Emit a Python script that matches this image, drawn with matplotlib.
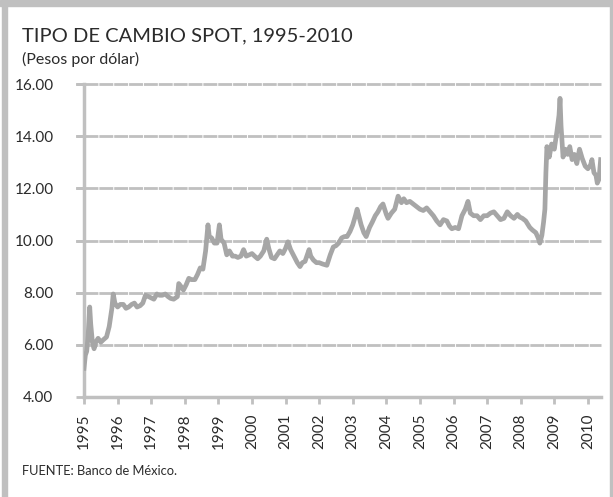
import numpy as np
import matplotlib
matplotlib.use('Agg')
import matplotlib.pyplot as plt
from matplotlib.patches import Rectangle

# tipo de cambio spot, pesos por dolar (lecturas del grafico)
fechas = [
    1995.00, 1995.04, 1995.08, 1995.12, 1995.17, 1995.20, 1995.25, 1995.30, 1995.35, 1995.42,
    1995.50, 1995.58, 1995.67, 1995.75, 1995.83, 1995.87, 1995.92,
    1996.00, 1996.08, 1996.17, 1996.25, 1996.33, 1996.42, 1996.50, 1996.58, 1996.67, 1996.75,
    1996.83, 1996.92,
    1997.00, 1997.08, 1997.17, 1997.25, 1997.33, 1997.42, 1997.50, 1997.58, 1997.67, 1997.78,
    1997.82, 1997.88, 1997.96,
    1998.04, 1998.12, 1998.20, 1998.30, 1998.38, 1998.46, 1998.54, 1998.62, 1998.69, 1998.73,
    1998.80, 1998.88, 1998.96,
    1999.03, 1999.08, 1999.17, 1999.25, 1999.33, 1999.42, 1999.50, 1999.58, 1999.67, 1999.75,
    1999.83, 1999.92,
    2000.00, 2000.08, 2000.17, 2000.25, 2000.35, 2000.44, 2000.50, 2000.58, 2000.67, 2000.75,
    2000.83, 2000.92,
    2001.00, 2001.07, 2001.15, 2001.25, 2001.35, 2001.43, 2001.50, 2001.58, 2001.70, 2001.75,
    2001.83, 2001.92,
    2002.00, 2002.10, 2002.23, 2002.33, 2002.42, 2002.50, 2002.58, 2002.67, 2002.75, 2002.83,
    2002.92,
    2003.00, 2003.08, 2003.13, 2003.25, 2003.33, 2003.40, 2003.50, 2003.58, 2003.67, 2003.75,
    2003.83, 2003.90,
    2004.00, 2004.05, 2004.15, 2004.25, 2004.35, 2004.45, 2004.52, 2004.60, 2004.70, 2004.80,
    2004.90,
    2005.00, 2005.10, 2005.20, 2005.30, 2005.40, 2005.50, 2005.60, 2005.70, 2005.80, 2005.88,
    2005.95,
    2006.05, 2006.15, 2006.25, 2006.35, 2006.43, 2006.50, 2006.60, 2006.70, 2006.80, 2006.90,
    2007.00, 2007.10, 2007.20, 2007.30, 2007.40, 2007.50, 2007.60, 2007.70, 2007.80, 2007.90,
    2007.97,
    2008.05, 2008.15, 2008.27, 2008.35, 2008.45, 2008.52, 2008.57, 2008.63, 2008.68, 2008.72,
    2008.75, 2008.78, 2008.85, 2008.92,
    2009.00, 2009.08, 2009.14, 2009.17, 2009.20, 2009.26, 2009.33, 2009.40, 2009.46, 2009.53,
    2009.60, 2009.67, 2009.75, 2009.83, 2009.92,
    2010.00, 2010.08, 2010.12, 2010.18, 2010.24, 2010.28, 2010.33, 2010.38,
]
tipo_cambio = [
    5.10, 5.60, 5.75, 6.30, 7.45, 6.80, 6.10, 5.85, 6.10, 6.25,
    6.10, 6.20, 6.30, 6.70, 7.40, 7.95, 7.60,
    7.45, 7.55, 7.55, 7.40, 7.45, 7.55, 7.60, 7.45, 7.50, 7.60,
    7.90, 7.85,
    7.80, 7.75, 7.95, 7.90, 7.90, 7.95, 7.85, 7.78, 7.75, 7.85,
    8.35, 8.25, 8.10,
    8.30, 8.55, 8.50, 8.50, 8.70, 8.95, 8.90, 9.60, 10.60, 10.15,
    10.10, 9.90, 9.90,
    10.60, 10.05, 9.90, 9.45, 9.60, 9.40, 9.40, 9.35, 9.40, 9.65,
    9.40, 9.45,
    9.50, 9.40, 9.30, 9.40, 9.60, 10.05, 9.70, 9.35, 9.30, 9.45,
    9.60, 9.50,
    9.70, 9.95, 9.65, 9.40, 9.15, 9.00, 9.15, 9.20, 9.65, 9.40,
    9.25, 9.15,
    9.15, 9.10, 9.05, 9.45, 9.75, 9.80, 9.90, 10.10, 10.15, 10.15,
    10.35,
    10.60, 10.95, 11.20, 10.60, 10.30, 10.15, 10.50, 10.70, 10.95, 11.10,
    11.30, 11.40,
    11.00, 10.85, 11.05, 11.20, 11.70, 11.45, 11.60, 11.45, 11.50, 11.40,
    11.30,
    11.20, 11.15, 11.25, 11.10, 10.95, 10.75, 10.60, 10.80, 10.75, 10.55,
    10.45,
    10.50, 10.45, 10.95, 11.20, 11.50, 11.05, 10.95, 10.95, 10.80, 10.95,
    10.95, 11.05, 11.10, 10.95, 10.80, 10.85, 11.10, 10.95, 10.85, 11.00,
    10.90,
    10.85, 10.75, 10.50, 10.40, 10.30, 10.10, 9.90, 10.20, 10.70, 11.20,
    12.60, 13.60, 13.20, 13.70,
    13.50, 14.20, 14.80, 15.45, 14.40, 13.20, 13.50, 13.30, 13.60, 13.10,
    13.30, 12.95, 13.50, 13.15, 12.85,
    12.75, 12.90, 13.10, 12.60, 12.50, 12.20, 12.35, 13.10,
]
anios = list(range(1995, 2011))
y_ticks = [4, 6, 8, 10, 12, 14, 16]

gris = '#a6a6a6'
gris_claro = '#c0c0c0'
texto = '#2b2b2b'

plt.rcParams['font.family'] = ['Lato', 'DejaVu Sans']

fig = plt.figure(figsize=(6.13, 4.97), dpi=100)

# marco gris (arriba, izquierda, derecha)
fig.patches.append(Rectangle((0, 1 - 6/497), 1, 6/497, transform=fig.transFigure,
                             color=gris_claro, zorder=0))
fig.patches.append(Rectangle((2/613, 0), 5/613, 1, transform=fig.transFigure,
                             color=gris_claro, zorder=0))
fig.patches.append(Rectangle((610/613, 0), 3/613, 1, transform=fig.transFigure,
                             color=gris_claro, zorder=0))

ax = fig.add_axes([84/613, 1 - 397/497, (601 - 84)/613, (397 - 84)/497])

for v in y_ticks[1:]:
    ax.axhline(v, color=gris_claro, lw=2.0, dashes=(5, 0.35), zorder=1, clip_on=False)
    ax.plot([-0.0135, 0], [v, v], transform=ax.get_yaxis_transform(), color=gris_claro,
            lw=2.0, clip_on=False, zorder=1)

ax.plot(fechas, tipo_cambio, color=gris, lw=3.4, solid_joinstyle='round', zorder=3)

ax.set_xlim(1995.0, 2010.39)
ax.set_ylim(4, 16)
ax.set_yticks(y_ticks)
ax.set_yticklabels(['%.2f' % v for v in y_ticks], fontsize=11, color=texto)
ax.set_xticks(anios)
ax.set_xticklabels([str(a) for a in anios], rotation=90, fontsize=11, color=texto)

for s in ['top', 'right']:
    ax.spines[s].set_visible(False)
ax.spines['left'].set_color(gris_claro)
ax.spines['left'].set_linewidth(2.5)
ax.spines['bottom'].set_color(gris_claro)
ax.spines['bottom'].set_linewidth(2.5)
ax.tick_params(axis='x', length=5, width=2, color=gris_claro, pad=7)
ax.tick_params(axis='y', length=6, width=2.0, color=gris_claro, pad=16)

fig.text(22/613, 1 - 36/497, 'TIPO DE CAMBIO SPOT, 1995-2010', fontsize=14.5,
         color=texto, va='center', ha='left')
fig.text(22/613, 1 - 59/497, '(Pesos por dólar)', fontsize=11.5, color=texto,
         va='center', ha='left')
fig.text(22/613, 1 - 471/497, 'FUENTE: Banco de México.', fontsize=9.3, color=texto,
         va='center', ha='left')

fig.savefig('out.png', dpi=100)
